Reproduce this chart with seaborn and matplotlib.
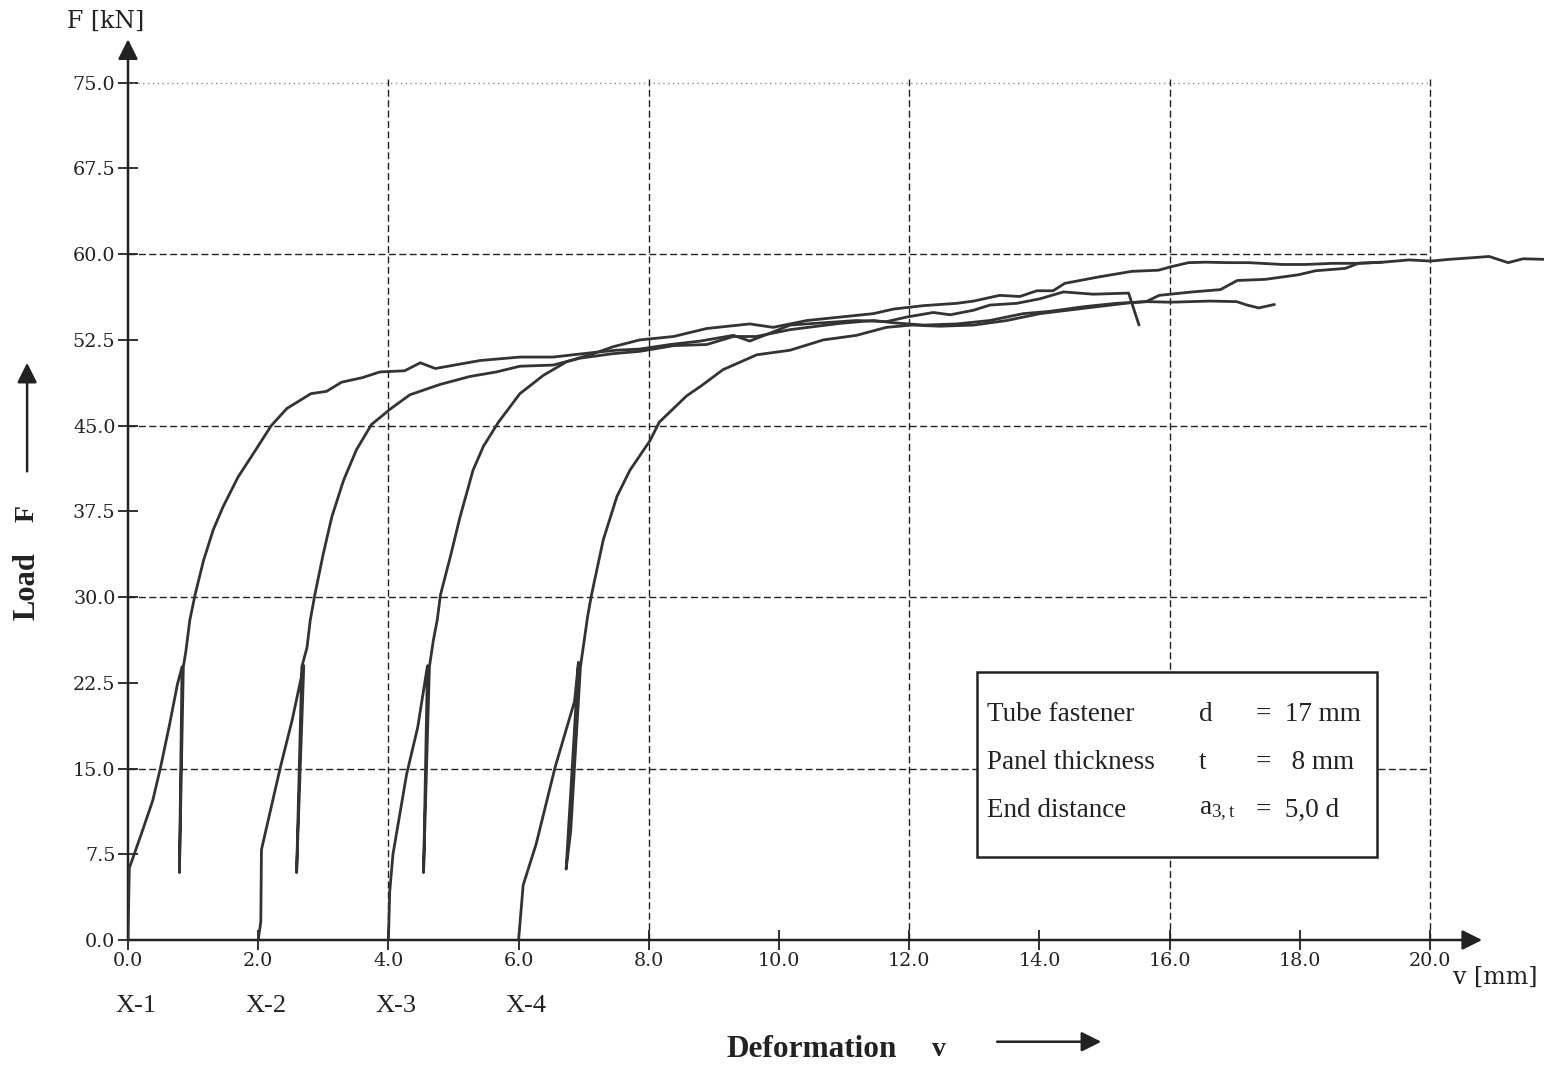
import numpy as np
import pandas as pd
import matplotlib
matplotlib.use("Agg")
import matplotlib.pyplot as plt
from matplotlib.patches import Rectangle
import seaborn as sns

# ---------------- data ----------------
x1_v = [0.0, 0.02, 0.2, 0.38, 0.5, 0.64, 0.76, 0.83, 0.79, 0.85, 0.89, 0.95, 1.03, 1.16, 1.31,
        1.46, 1.69, 1.93, 2.2, 2.44, 2.64, 2.81, 3.05, 3.28, 3.6, 3.87, 4.25, 4.49, 4.72, 5.41,
        6.02, 6.53, 7.15, 7.5, 7.86, 8.33, 8.79, 9.3, 9.55, 9.91, 10.17, 10.68, 11.19, 11.65,
        11.96, 12.37, 12.63, 12.99, 13.24, 13.65, 14.01, 14.37, 14.83, 15.37, 15.53]
x1_F = [0.0, 6.3, 9.2, 12.2, 15.1, 18.9, 22.4, 23.9, 5.9, 23.9, 25.3, 28.0, 30.2, 33.2, 35.9,
        37.9, 40.5, 42.6, 45.0, 46.5, 47.2, 47.8, 48.0, 48.8, 49.2, 49.7, 49.8, 50.5, 50.0, 50.7,
        51.0, 51.0, 51.4, 51.6, 51.7, 52.1, 52.4, 52.9, 52.4, 53.2, 53.8, 54.0, 54.2, 54.1,
        54.5, 54.9, 54.7, 55.1, 55.55, 55.7, 56.1, 56.7, 56.5, 56.6, 53.8]

x2_v = [2.0, 2.04, 2.05, 2.34, 2.52, 2.64, 2.7, 2.59, 2.67, 2.75, 2.8, 2.87, 3.0, 3.13, 3.31,
        3.51, 3.74, 4.04, 4.33, 4.79, 5.25, 5.66, 6.02, 6.53, 6.94, 7.45, 7.86, 8.38, 8.89, 9.3,
        9.65, 10.17, 10.94, 11.45, 11.76, 12.22, 12.73, 13.24, 13.75, 14.16, 14.67, 15.18,
        15.64, 16.02, 16.62, 17.03, 17.19, 17.37, 17.61]
x2_F = [0.0, 1.6, 7.9, 15.1, 19.2, 22.4, 24.0, 5.9, 23.9, 25.6, 28.0, 30.2, 33.8, 37.0, 40.2,
        42.9, 45.1, 46.5, 47.7, 48.6, 49.3, 49.7, 50.2, 50.3, 50.9, 51.3, 51.5, 52.0, 52.1, 52.8,
        52.8, 53.4, 53.95, 54.2, 54.0, 53.8, 53.9, 54.2, 54.8, 55.0, 55.4, 55.7,
        55.85, 55.8, 55.9, 55.85, 55.55, 55.3, 55.6]

x3_v = [4.0, 4.02, 4.07, 4.28, 4.45, 4.6, 4.54, 4.63, 4.69, 4.75, 4.8, 4.95, 5.1, 5.3, 5.46,
        5.69, 6.02, 6.38, 6.74, 7.15, 7.45, 7.86, 8.38, 8.89, 9.55, 9.91, 10.43, 10.94, 11.45,
        11.76, 12.22, 12.73, 12.99, 13.39, 13.7, 13.96, 14.21, 14.39, 14.9, 15.42, 15.83, 16.02,
        16.29, 16.55, 16.91, 17.22, 17.73, 18.09, 18.5, 18.86, 19.27]
x3_F = [0.0, 4.2, 7.5, 14.5, 18.6, 24.0, 5.9, 23.9, 26.2, 28.0, 30.2, 33.5, 37.0, 41.1, 43.2,
        45.3, 47.8, 49.4, 50.6, 51.3, 51.9, 52.5, 52.8, 53.5, 53.9, 53.6, 54.2, 54.5, 54.8,
        55.2, 55.5, 55.7, 55.9, 56.4, 56.3, 56.8, 56.8, 57.45, 58.0, 58.5, 58.6, 58.9,
        59.26, 59.3, 59.26, 59.26, 59.1, 59.1, 59.2, 59.2, 59.3]

x4_v = [6.0, 6.07, 6.27, 6.56, 6.71, 6.86, 6.92, 6.73, 6.8, 6.95, 7.06, 7.12, 7.3, 7.51, 7.71,
        8.02, 8.16, 8.58, 8.81, 9.14, 9.66, 10.17, 10.68, 11.19, 11.65, 12.04, 12.47, 12.99,
        13.5, 14.01, 14.67, 15.39, 15.64, 15.84, 16.35, 16.78, 17.04, 17.47, 17.98, 18.24,
        18.7, 18.9, 19.27, 19.68, 20.01, 20.3, 20.91, 21.2, 21.43, 21.75]
x4_F = [0.0, 4.8, 8.4, 15.1, 18.0, 20.9, 24.3, 6.2, 9.5, 23.9, 28.3, 30.2, 35.0, 38.8, 41.1,
        43.7, 45.3, 47.6, 48.5, 49.9, 51.2, 51.6, 52.5, 52.9, 53.6, 53.8, 53.7, 53.8,
        54.2, 54.8, 55.26, 55.75, 55.85, 56.4, 56.7, 56.9, 57.7, 57.8, 58.2, 58.55,
        58.76, 59.2, 59.3, 59.5, 59.4, 59.55, 59.8, 59.26, 59.6, 59.55]

specimens = ["X-1", "X-2", "X-3", "X-4"]
specimen_offsets = [0.0, 2.0, 4.0, 6.0]
x_ticks = [0.0, 2.0, 4.0, 6.0, 8.0, 10.0, 12.0, 14.0, 16.0, 18.0, 20.0]
y_ticks = [0.0, 7.5, 15.0, 22.5, 30.0, 37.5, 45.0, 52.5, 60.0, 67.5, 75.0]
grid_v = [4.0, 8.0, 12.0, 16.0, 20.0]
grid_F = [15.0, 30.0, 45.0, 60.0]
info_labels = ["Tube fastener", "Panel thickness", "End distance"]
info_symbols = ["d", "t", r"a$_{\mathrm{3,t}}$"]
info_values = ["=  17 mm", "=   8 mm", "=  5,0 d"]

frames = []
for name, v, F in zip(specimens, [x1_v, x2_v, x3_v, x4_v], [x1_F, x2_F, x3_F, x4_F]):
    frames.append(pd.DataFrame({"v": v, "F": F, "specimen": name, "order": range(len(v))}))
df = pd.concat(frames, ignore_index=True)

# ---------------- style ----------------
sns.set_theme(style="white")
plt.rcParams["font.family"] = ["Liberation Serif", "DejaVu Serif"]
plt.rcParams["mathtext.fontset"] = "custom"
plt.rcParams["mathtext.rm"] = "Liberation Serif"
plt.rcParams["mathtext.it"] = "Liberation Serif:italic"

ink = "#222222"
fig = plt.figure(figsize=(15.44, 10.68), dpi=100)
ax = fig.add_axes([128 / 1544, (1068 - 940) / 1068, 21.75 * 65.1 / 1544, 79 * 11.43 / 1068])

# grid
ax.hlines(grid_F, 0, 20, colors=ink, linestyles=(0, (5, 2.5)), lw=1.0, zorder=1)
ax.hlines([75.0], 0, 20, colors="#8a8a8a", linestyles=(0, (1, 2.5)), lw=1.0, zorder=1)
ax.vlines(grid_v, 0, 75.3, colors=ink, linestyles=(0, (5, 2.5)), lw=1.0, zorder=1)

# curves
sns.lineplot(data=df, x="v", y="F", units="specimen", estimator=None, sort=False,
             color="#333333", lw=2.0, ax=ax, zorder=4, legend=False)

ax.set_xlim(0, 21.75)
ax.set_ylim(0, 79)
for s in ax.spines.values():
    s.set_visible(False)

# axes with arrows
ax.annotate("", xy=(20.8, 0), xytext=(0, 0), annotation_clip=False,
            arrowprops=dict(arrowstyle="-|>", lw=1.8, color=ink, mutation_scale=30, shrinkA=0, shrinkB=0))
ax.annotate("", xy=(0, 78.8), xytext=(0, 0), annotation_clip=False,
            arrowprops=dict(arrowstyle="-|>", lw=1.8, color=ink, mutation_scale=30, shrinkA=0, shrinkB=0))

ax.set_xticks(x_ticks)
ax.set_xticklabels([f"{t:.1f}" for t in x_ticks])
ax.set_yticks(y_ticks)
ax.set_yticklabels([f"{t:.1f}" for t in y_ticks])
ax.tick_params(axis="both", direction="inout", length=14, width=1.3, color=ink,
               labelsize=13.8, labelcolor=ink, pad=2, bottom=True, left=True)
for lab in ax.get_xticklabels() + ax.get_yticklabels():
    lab.set_fontfamily(["DejaVu Serif"])
ax.set_xlabel("")
ax.set_ylabel("")

# unit labels
ax.text(-0.35, 80.4, "F [kN]", ha="center", va="center", fontsize=17, color=ink,
        family=["DejaVu Serif"], clip_on=False)
ax.text(21.0, -3.3, "v [mm]", ha="center", va="center", fontsize=17, color=ink,
        family=["DejaVu Serif"], clip_on=False)

# specimen labels
for name, off in zip(specimens, specimen_offsets):
    ax.text(off + 0.12, -5.8, name, ha="center", va="center", fontsize=19, color=ink, clip_on=False)

# axis titles
ax.text(10.5, -9.6, "Deformation", ha="center", va="center", fontsize=22.5, fontweight="bold",
        color=ink, clip_on=False)
ax.text(12.45, -9.6, "v", ha="center", va="center", fontsize=20, fontweight="bold",
        color=ink, clip_on=False)
ax.annotate("", xy=(14.95, -8.9), xytext=(13.35, -8.9), annotation_clip=False,
            arrowprops=dict(arrowstyle="-|>", lw=1.8, color=ink, mutation_scale=30, shrinkA=0, shrinkB=0))
ax.text(-1.55, 31.0, "Load", ha="center", va="center", rotation=90, fontsize=22,
        fontweight="bold", color=ink, clip_on=False)
ax.text(-1.55, 37.3, "F", ha="center", va="center", rotation=90, fontsize=20,
        fontweight="bold", color=ink, clip_on=False)
ax.annotate("", xy=(-1.55, 50.5), xytext=(-1.55, 41.0), annotation_clip=False,
            arrowprops=dict(arrowstyle="-|>", lw=1.8, color=ink, mutation_scale=30, shrinkA=0, shrinkB=0))

# info box
ax.add_patch(Rectangle((13.04, 7.26), 6.15, 16.2, facecolor="white", edgecolor=ink, lw=1.8, zorder=3))
for i, (lab, sym, val) in enumerate(zip(info_labels, info_symbols, info_values)):
    yy = 19.7 - i * 4.2
    ax.text(13.2, yy, lab, ha="left", va="center", fontsize=19.5, color=ink, zorder=5)
    ax.text(16.45, yy, sym, ha="left", va="center", fontsize=19.5, color=ink, zorder=5)
    ax.text(17.32, yy, val, ha="left", va="center", fontsize=19.5, color=ink, zorder=5)

fig.savefig("out.png", dpi=100, facecolor="white")
